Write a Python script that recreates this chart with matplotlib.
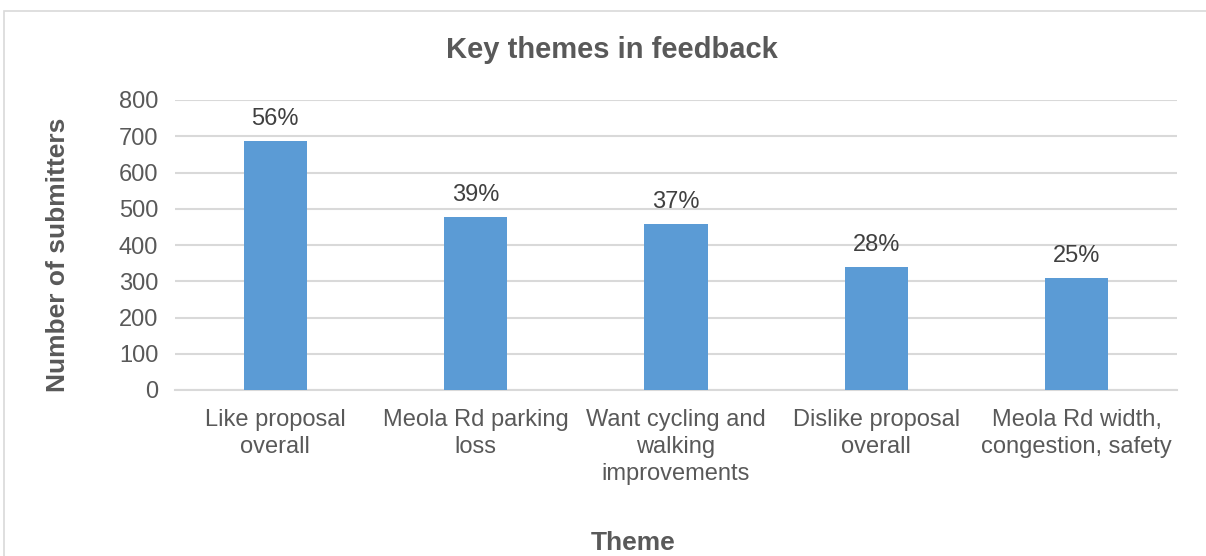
import matplotlib.pyplot as plt
from matplotlib.patches import Rectangle

themes = ["Like proposal\noverall", "Meola Rd parking\nloss",
          "Want cycling and\nwalking\nimprovements", "Dislike proposal\noverall",
          "Meola Rd width,\ncongestion, safety"]
submitters = [687, 476, 457, 338, 310]
shares = ["56%", "39%", "37%", "28%", "25%"]
yticks = [0, 100, 200, 300, 400, 500, 600, 700, 800]

plt.rcParams['font.family'] = ['Liberation Sans', 'DejaVu Sans']
grey = '#595959'

fig = plt.figure(figsize=(12.06, 5.56), dpi=100)
# chart area border
fig.patches.append(Rectangle((4 / 1206, -0.05), 1.1, 1.05 - 11 / 556,
                             transform=fig.transFigure, fill=False,
                             edgecolor='#d9d9d9', linewidth=1.2))

ax = fig.add_axes([175 / 1206, 1 - 390 / 556, 1002 / 1206, 290 / 556])
x = range(len(themes))
bars = ax.bar(x, submitters, width=0.315, color='#5B9BD5', zorder=3)
for b, s in zip(bars, shares):
    ax.annotate(s, (b.get_x() + b.get_width() / 2, b.get_height()),
                xytext=(0, 8), textcoords='offset points', ha='center',
                va='bottom', fontsize=17, color='#404040')

ax.set_xlim(-0.5, 4.5)
ax.set_ylim(0, 800)
ax.set_yticks(yticks)
ax.set_xticks(list(x))
ax.set_xticklabels(themes, fontsize=17, color=grey, linespacing=1.27)
ax.tick_params(axis='y', labelsize=17, labelcolor=grey, length=0, pad=12)
ax.tick_params(axis='x', length=0, pad=14)
ax.grid(axis='y', color='#d9d9d9', linewidth=1.5, zorder=0)
for side in ['top', 'right', 'left']:
    ax.spines[side].set_visible(False)
ax.spines['bottom'].set_color('#d9d9d9')
ax.spines['bottom'].set_linewidth(1.5)

fig.text(612 / 1206, 1 - 50 / 556, "Key themes in feedback", ha='center',
         va='center', fontsize=21, fontweight='bold', color=grey)
fig.text(58 / 1206, 1 - 255 / 556, "Number of submitters", ha='center',
         va='center', rotation=90, fontsize=19, fontweight='bold', color=grey)
fig.text(633 / 1206, 1 - 543 / 556, "Theme", ha='center', va='center',
         fontsize=19, fontweight='bold', color=grey)

fig.savefig('out.png', dpi=100)
